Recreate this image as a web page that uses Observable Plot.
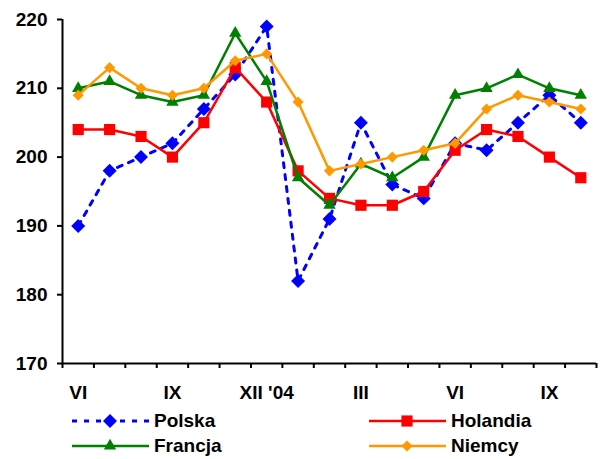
<!DOCTYPE html>
<html>
<head>
<meta charset="utf-8">
<script src="https://cdn.jsdelivr.net/npm/d3@7"></script>
<script src="https://cdn.jsdelivr.net/npm/@observablehq/plot@0.6"></script>
<style>
  body { margin: 0; background: #fff; font-family: "Liberation Sans", Arial, sans-serif; }
  #wrap { width: 601px; }
  #legend { position: relative; width: 601px; height: 54px; }
  .item { position: absolute; display: flex; align-items: center; height: 24px; font-weight: bold; font-size: 19px; color: #000; }
  .item svg { display: block; }
</style>
</head>
<body>
<div id="wrap"></div>
<script>
// Months (VI 2004 – X 2005)
const months = ["VI","VII","VIII","IX","X","XI","XII '04","I","II","III","IV","V","VI","VII","VIII","IX","X"];
const labeledIdx = [0, 3, 6, 9, 12, 15];
const yTicks = [170, 180, 190, 200, 210, 220];

const polska   = [190,198,200,202,207,212,219,182,191,205,196,194,202,201,205,209,205];
const holandia = [204,204,203,200,205,213,208,198,194,193,193,195,201,204,203,200,197];
const francja  = [210,211,209,208,209,218,211,197,193,199,197,200,209,210,212,210,209];
const niemcy   = [209,213,210,209,210,214,215,208,198,199,200,201,202,207,209,208,207];

const seriesNames  = ["Polska", "Holandia", "Francja", "Niemcy"];
const seriesValues = [polska, holandia, francja, niemcy];
const seriesColors = ["#0000FF", "#FF0000", "#008000", "#FF9900"];
const seriesSymbols = ["diamond2", "square", "triangle", "diamond2"];
const seriesR = [6.3, 6.3, 4.6, 5.0];
const seriesDash = ["5,7", null, null, null];

const boundaries = months.map((d, i) => i - 0.5).concat([months.length - 0.5]);

const marks = [];
// axis lines
marks.push(Plot.ruleY([yTicks[0]], {stroke: "#000", strokeWidth: 2}));
marks.push(Plot.ruleX([boundaries[0]], {stroke: "#000", strokeWidth: 2}));
// y axis ticks + labels
marks.push(Plot.axisY(yTicks, {label: null, tickSize: 5, tickPadding: 10, strokeWidth: 2, tickFormat: d => String(d), fontSize: 19, fontWeight: "bold", fill: "#000"}));
// x axis boundary ticks
marks.push(Plot.axisX(boundaries, {label: null, tickSize: 5, strokeWidth: 2, tickFormat: () => ""}));
// x labels
marks.push(Plot.axisX(labeledIdx, {label: null, tickSize: 0, tickPadding: 22, tickFormat: i => months[i], fontSize: 19, fontWeight: "bold", fill: "#000"}));

seriesNames.forEach((name, s) => {
  const data = seriesValues[s].map((v, i) => ({i, v}));
  marks.push(Plot.line(data, {x: "i", y: "v", stroke: seriesColors[s], strokeWidth: s === 0 ? 3 : 2.5, strokeDasharray: seriesDash[s] || undefined, curve: "linear"}));
  marks.push(Plot.dot(data, {x: "i", y: "v", symbol: seriesSymbols[s], r: seriesR[s], fill: seriesColors[s], stroke: "none"}));
});

const chart = Plot.plot({
  width: 601,
  height: 405,
  marginLeft: 62,
  marginRight: 5,
  marginTop: 19,
  marginBottom: 42,
  style: {fontFamily: "'Liberation Sans', Arial, sans-serif", fontSize: "19px", fontWeight: "bold", color: "#000", background: "#fff"},
  x: {type: "linear", domain: [boundaries[0], boundaries[boundaries.length - 1]], axis: null, label: null},
  y: {domain: [yTicks[0], yTicks[yTicks.length - 1]], axis: null, label: null},
  marks
});

const wrap = document.getElementById("wrap");
wrap.appendChild(chart);

// Legend
const legend = document.createElement("div");
legend.id = "legend";
wrap.appendChild(legend);
const legendPos = [
  {left: 72, top: 4},   // Polska
  {left: 369, top: 4},  // Holandia
  {left: 72, top: 29},  // Francja
  {left: 369, top: 29}  // Niemcy
];
seriesNames.forEach((name, s) => {
  const item = document.createElement("div");
  item.className = "item";
  item.style.left = legendPos[s].left + "px";
  item.style.top = legendPos[s].top + "px";
  const svg = d3.create("svg").attr("width", 82).attr("height", 24);
  svg.append("line").attr("x1", 0).attr("x2", 77).attr("y1", 12).attr("y2", 12)
    .attr("stroke", seriesColors[s]).attr("stroke-width", s === 0 ? 3 : 2.5)
    .attr("stroke-dasharray", seriesDash[s]);
  const sym = {diamond2: d3.symbolDiamond2, square: d3.symbolSquare, triangle: d3.symbolTriangle}[seriesSymbols[s]];
  svg.append("path").attr("d", d3.symbol(sym, Math.PI * seriesR[s] * seriesR[s])())
    .attr("transform", "translate(38,12)").attr("fill", seriesColors[s]);
  item.appendChild(svg.node());
  const span = document.createElement("span");
  span.textContent = name;
  item.appendChild(span);
  legend.appendChild(item);
});
</script>
</body>
</html>
